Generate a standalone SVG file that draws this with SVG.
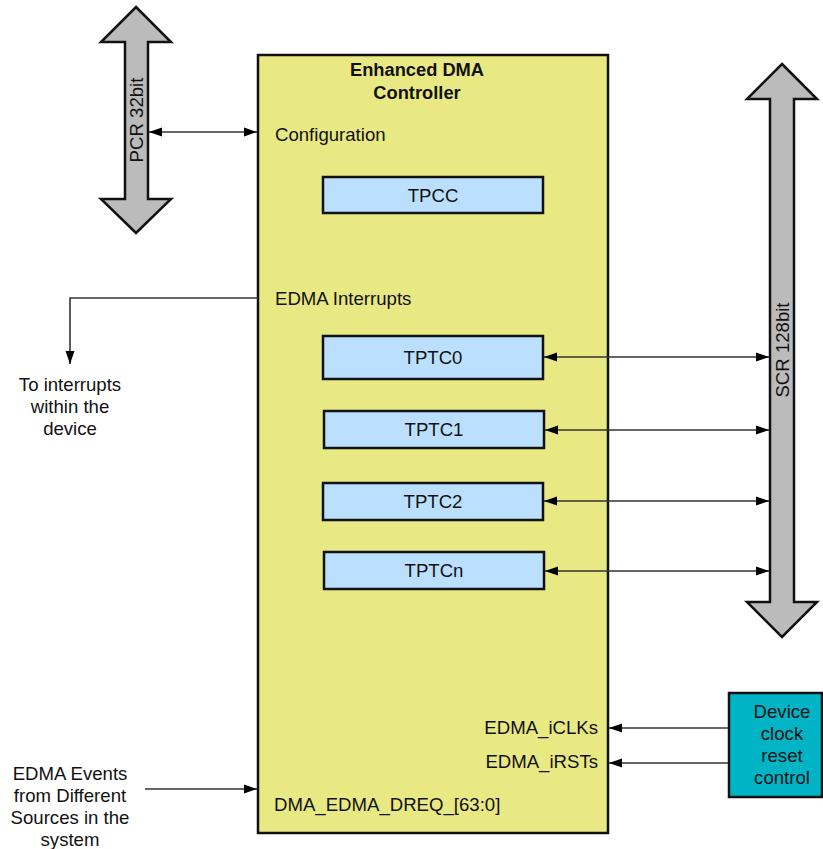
<svg xmlns="http://www.w3.org/2000/svg" width="823" height="849" viewBox="0 0 823 849">
<style>
text{font-family:"Liberation Sans",Arial,sans-serif;font-size:18.6px;fill:#111}
.b{font-weight:bold;font-size:18.3px}
.m{text-anchor:middle}
.e{text-anchor:end}
.main{fill:#E9E984;stroke:#111;stroke-width:2.5}
.tp{fill:#BBE0FF;stroke:#111;stroke-width:2.5}
.bus{fill:#BBBBBB;stroke:#111;stroke-width:2.5;stroke-linejoin:miter}
.dev{fill:#00B4C6;stroke:#111;stroke-width:2.5}
.c{fill:none;stroke:#333;stroke-width:1.6}
</style>
<defs>
<marker id="ah" markerUnits="userSpaceOnUse" markerWidth="14" markerHeight="10" refX="13" refY="5" orient="auto-start-reverse" viewBox="0 0 14 10">
<path d="M0,0.5 L13,5 L0,9.5 z" fill="#000"/>
</marker>
</defs>
<g id="pcr-bus">
<path class="bus" d="M136,7 L171,42 L148,42 L148,199 L171,199 L136,233 L101,199 L125,199 L125,42 L101,42 z"/>
<text transform="translate(142.5,120) rotate(-90)" class="m">PCR 32bit</text>
</g>
<g id="scr-bus">
<path class="bus" d="M782,64 L817,99 L794,99 L794,602 L817,602 L782,637 L747,602 L770,602 L770,99 L747,99 z"/>
<text transform="translate(788.5,350) rotate(-90)" class="m">SCR 128bit</text>
</g>
<g id="edma">
<rect class="main" x="258" y="55" width="350" height="778"/>
<text x="417" y="76" class="b m">Enhanced DMA</text>
<text x="417" y="99" class="b m">Controller</text>
<text x="275" y="141">Configuration</text>
<text x="275" y="305">EDMA Interrupts</text>
<text x="598" y="734" class="e">EDMA_iCLKs</text>
<text x="598" y="768" class="e">EDMA_iRSTs</text>
<text x="274" y="811">DMA_EDMA_DREQ_[63:0]</text>
</g>
<g id="tpcc">
<rect class="tp" x="323" y="177" width="220" height="36"/>
<text x="433" y="201.5" class="m">TPCC</text>
</g>
<g id="tptc0">
<rect class="tp" x="323" y="336" width="220" height="43"/>
<text x="433" y="363.5" class="m">TPTC0</text>
</g>
<g id="tptc1">
<rect class="tp" x="324" y="411" width="220" height="37"/>
<text x="434" y="436" class="m">TPTC1</text>
</g>
<g id="tptc2">
<rect class="tp" x="323" y="483" width="220" height="37"/>
<text x="433" y="508" class="m">TPTC2</text>
</g>
<g id="tptcn">
<rect class="tp" x="324" y="552" width="220" height="37"/>
<text x="434" y="577" class="m">TPTCn</text>
</g>
<g id="devclk">
<rect class="dev" x="729" y="693" width="93" height="104"/>
<text x="782" y="718" class="m">Device</text>
<text x="782" y="740" class="m">clock</text>
<text x="782" y="762" class="m">reset</text>
<text x="782" y="784" class="m">control</text>
</g>
<g id="interrupts-label">
<text x="70" y="391" class="m">To interrupts</text>
<text x="70" y="413" class="m">within the</text>
<text x="70" y="435" class="m">device</text>
</g>
<g id="events-label">
<text x="70" y="780" class="m">EDMA Events</text>
<text x="70" y="802" class="m">from Different</text>
<text x="70" y="824" class="m">Sources in the</text>
<text x="70" y="846" class="m">system</text>
</g>
<g id="connectors">
<line class="c" x1="149" y1="132" x2="257" y2="132" marker-start="url(#ah)" marker-end="url(#ah)"/>
<polyline class="c" points="258,298 70,298 70,364" marker-end="url(#ah)"/>
<line class="c" x1="544" y1="357" x2="769" y2="357" marker-start="url(#ah)" marker-end="url(#ah)"/>
<line class="c" x1="545" y1="430" x2="769" y2="430" marker-start="url(#ah)" marker-end="url(#ah)"/>
<line class="c" x1="544" y1="501" x2="769" y2="501" marker-start="url(#ah)" marker-end="url(#ah)"/>
<line class="c" x1="545" y1="571" x2="769" y2="571" marker-start="url(#ah)" marker-end="url(#ah)"/>
<line class="c" x1="728" y1="728" x2="609" y2="728" marker-end="url(#ah)"/>
<line class="c" x1="728" y1="763" x2="609" y2="763" marker-end="url(#ah)"/>
<line class="c" x1="145" y1="789" x2="257" y2="789" marker-end="url(#ah)"/>
</g>
</svg>
